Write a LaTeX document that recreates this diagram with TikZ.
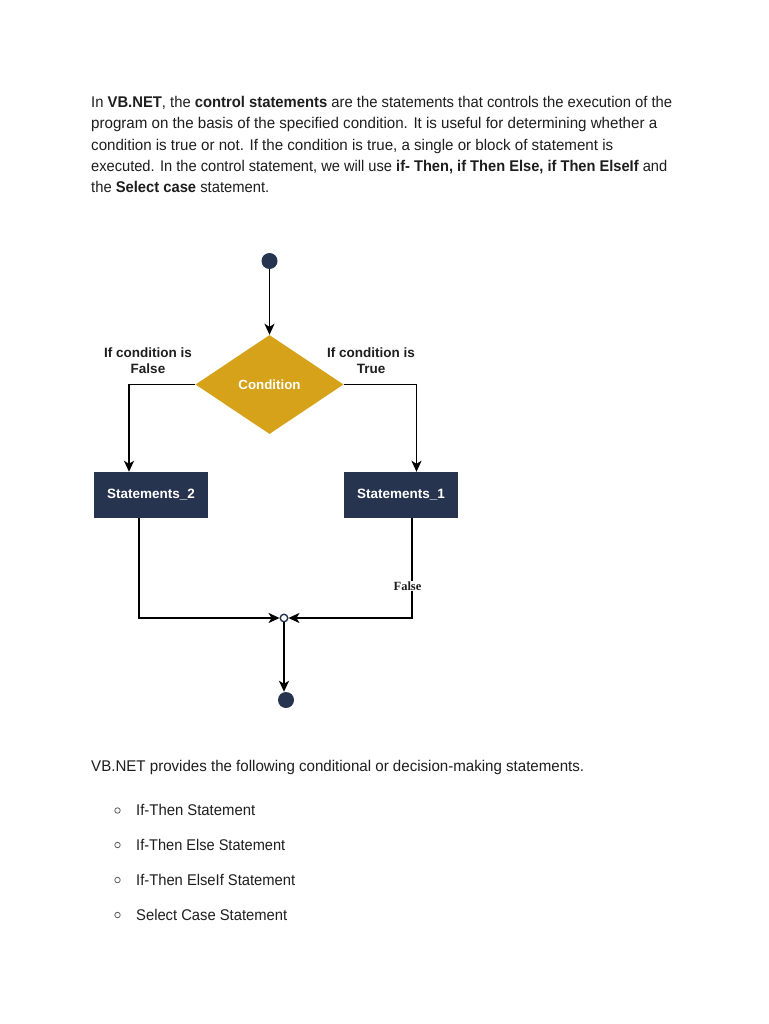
\documentclass[tikz,border=0pt]{standalone}
\usepackage{fontspec}
\setmainfont{Liberation Sans}
\newfontfamily\serifbold{Liberation Serif}
\usetikzlibrary{shapes.geometric,arrows.meta}
\definecolor{navy}{HTML}{27344F}
\definecolor{gold}{HTML}{D6A21A}
\definecolor{ink}{HTML}{1E1E1E}
\newcommand\fitw[2]{\resizebox{#1}{\height}{#2}}
\tikzset{
  body/.style={anchor=base west,inner sep=0pt,text=ink,font=\fontsize{15.5}{18}\selectfont},
  lbl/.style={align=center,inner sep=0pt,text=ink,font=\bfseries\fontsize{13.5}{15.5}\selectfont},
  stmt/.style={rectangle,fill=navy,minimum width=114pt,minimum height=46pt,inner sep=0pt,text=white,font=\bfseries\fontsize{13.5}{15}\selectfont},
  cond/.style={diamond,fill=gold,minimum width=148pt,minimum height=99pt,inner sep=1pt,text=white,font=\bfseries\fontsize{13.3}{15}\selectfont},
  dot/.style={circle,fill=navy,minimum size=16pt,inner sep=0pt},
  junc/.style={circle,draw=navy,fill=white,line width=1.4pt,minimum size=7.5pt,inner sep=0pt},
  arr/.style={line width=1.8pt,-{Stealth[length=11pt,width=10pt,inset=3pt]}},
  bul/.style={circle,draw=ink!70,line width=0.8pt,minimum size=5.5pt,inner sep=0pt},
}
\begin{document}
\begin{tikzpicture}[x=1pt,y=-1pt]
\useasboundingbox[fill=white] (0,0) rectangle (768,1024);
% intro paragraph
\node[body] (p1) at (91,107.5) {\fitw{581pt}{In \textbf{VB.NET}, the \textbf{control statements} are the statements that controls the execution of the}};
\node[body] (p2) at (91,128.8) {\fitw{566pt}{program on the basis of the specified condition. It is useful for determining whether a}};
\node[body] (p3) at (91,150.1) {\fitw{522pt}{condition is true or not. If the condition is true, a single or block of statement is}};
\node[body] (p4) at (91,171.4) {\fitw{576pt}{executed. In the control statement, we will use \textbf{if- Then, if Then Else, if Then ElseIf} and}};
\node[body] (p5) at (91,192.7) {\fitw{178pt}{the \textbf{Select case} statement.}};
% diagram
\node[dot] (start) at (269.5,261) {};
\node[cond] (c) at (269.5,384.5) {Condition};
\node[stmt] (s2) at (151,495) {Statements\_2};
\node[stmt] (s1) at (401,495) {Statements\_1};
\node[lbl] (lf) at (148,360.5) {If condition is\\False};
\node[lbl] (lt) at (371,360.5) {If condition is\\True};
\node[junc] (j) at (284,618) {};
\node[dot] (end) at (286,700) {};
\draw[arr] (start) -- (c.north);
\draw[arr] (c.west) -| ([xshift=-22pt]s2.north);
\draw[arr] (c.east) -| ([xshift=15.5pt]s1.north);
\draw[arr] ([xshift=-12pt]s2.south) |- (j.west);
\draw[arr] ([xshift=11pt]s1.south) |- (j.east);
\draw[arr] (j.south) -- (j.south |- end.north);
\node[fill=white,inner sep=0.5pt,text=ink,font=\serifbold\bfseries\fontsize{12.5}{14}\selectfont] (fl) at (407.5,586) {False};
% bottom text
\node[body] (q0) at (91,771.5) {\fitw{493pt}{VB.NET provides the following conditional or decision-making statements.}};
\node[bul] (b1) at (117.5,810.5) {};
\node[bul] (b2) at (117.5,845) {};
\node[bul] (b3) at (117.5,880) {};
\node[bul] (b4) at (117.5,915) {};
\node[body] (t1) at (136,815.5) {\fitw{119pt}{If-Then Statement}};
\node[body] (t2) at (136,850) {\fitw{149pt}{If-Then Else Statement}};
\node[body] (t3) at (136,885) {\fitw{159pt}{If-Then ElseIf Statement}};
\node[body] (t4) at (136,920) {\fitw{151pt}{Select Case Statement}};
\end{tikzpicture}
\end{document}
